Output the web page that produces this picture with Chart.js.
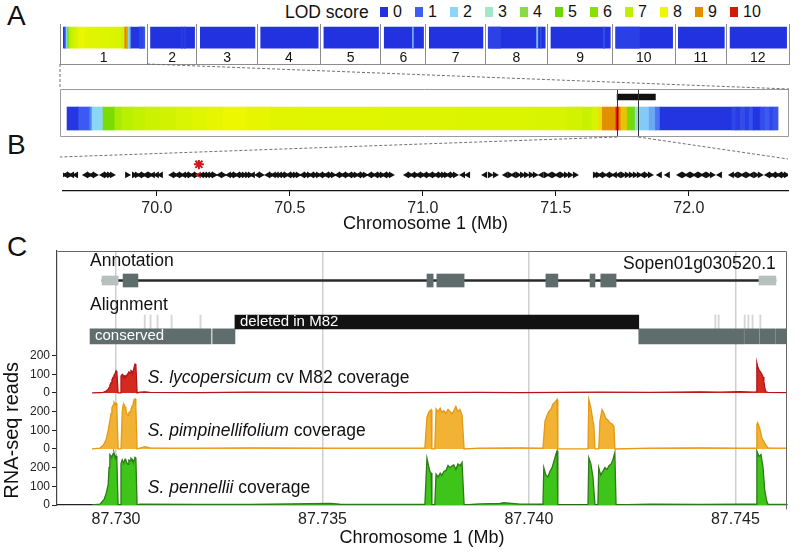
<!DOCTYPE html>
<html>
<head>
<meta charset="utf-8">
<title>LOD scan and RNA-seq coverage</title>
<script src="https://cdn.jsdelivr.net/npm/chart.js@4.4.1/dist/chart.umd.min.js"></script>
<style>
  html,body{margin:0;padding:0;background:#fff;}
  #fig{position:relative;width:802px;height:552px;overflow:hidden;font-family:"Liberation Sans",Arial,Helvetica,sans-serif;color:#111;}
  #fig canvas{position:absolute;}
  .panel{position:absolute;left:7px;font-size:28px;line-height:28px;}
  .lg{position:absolute;top:4px;height:16px;font-size:16px;line-height:16px;display:flex;align-items:center;}
  .lg span{display:inline-block;width:8px;height:10px;margin-right:5px;}
  #links{position:absolute;left:0;top:0;}
</style>
</head>
<body>
<div id="fig">
  <div class="panel" style="top:2px">A</div>
  <div class="panel" style="top:131px">B</div>
  <div class="panel" style="top:233px">C</div>
  <div style="position:absolute;left:285px;top:2px;font-size:17.5px;line-height:20px">LOD score</div>
  <div id="legend"></div>
  <canvas id="chartA" width="731" height="42" style="left:59px;top:24px"></canvas>
  <canvas id="chartB1" width="731" height="50" style="left:59px;top:88px"></canvas>
  <canvas id="chartB2" width="802" height="75" style="left:0;top:160px"></canvas>
  <canvas id="chartC" width="802" height="307" style="left:0;top:245px"></canvas>
  <svg id="links" width="802" height="552"></svg>
</div>
<script>
// ---------- data ----------
const lodLevels = [0,1,2,3,4,5,6,7,8,9,10];
const lodColors = ['#2232e0','#3e5ef2','#8ad6f7','#a2e8c8','#8ada48','#6cd806','#86e200','#bff000','#eef700','#e09000','#d21a06'];

const chromNames = ['1','2','3','4','5','6','7','8','9','10','11','12'];
const chromLen = [91,52,63,66,63,47,62,65,68,65,54,65]; // Mb

// chromosome 1 LOD profile: breakpoints (Mb) and LOD of each interval
const chr1Pos = [0,1.5,2.9,3.2,4.6,6.1,7,8.5,10,12,14,16,18,20,23,26,30,40,50,60,64,66,67.2,68.0,68.5,70.25,70.65,70.9,71.7,72.7,73.3,74.5,75.3,75.9,85.1,85.6,86.2,86.8,87.3,87.8,88.7,89.3,89.9,90.4,91];
const chr1Lod = [0.1,0.9,1.3,2.0,5.5,6.6,6.9,7.1,7.25,7.4,7.55,7.7,7.85,7.95,7.85,7.75,7.7,7.65,7.6,7.55,7.4,7.2,7.5,8.2,9.0,10,9.0,8.5,5.3,2.4,1.9,1.6,1.2,0.05,0.5,0.2,0.6,0.3,0.7,0.05,0.6,0.9,0.5,0.8];

// weak signals on the other chromosomes (index, from, to in Mb, LOD)
const hiChrom = [1,1,5,7,7,7,8,9];
const hiFrom  = [35.8,39.0,32.8,3.0,53.5,57.5,58.4,3.0];
const hiTo    = [36.8,40.0,34.0,16.0,54.8,58.3,59.4,28.0];
const hiLod   = [0.3,0.3,1.6,0.35,1.8,0.6,0.7,0.3];

const qtlLines = [70.4, 73.1];
const qtlBar = [70.4, 75.3];

// panel B genes (Mb) and strand
const bTicks = [70.0,70.5,71.0,71.5,72.0];
const candidatePos = 70.158;
const genePos = [69.647,69.658,69.670,69.681,69.696,
 69.733,69.745,69.756,69.767,
 69.797,69.809,69.820,69.831,
 69.888,
 69.914,69.925,69.936,69.948,69.959,69.974,69.985,70.000,70.015,
 70.057,70.068,70.079,70.091,70.102,70.113,70.124,70.136,70.147,70.158,70.170,70.181,70.192,70.203,70.215,
 70.237,70.249,
 70.271,70.282,70.294,70.305,70.316,70.327,70.339,70.350,70.361,
 70.380,70.391,
 70.418,70.429,70.440,70.451,70.463,70.474,70.485,70.497,70.508,70.519,70.530,
 70.549,70.560,70.572,70.583,70.594,70.606,70.617,70.628,70.639,70.651,70.662,
 70.681,70.692,70.703,70.715,70.726,70.737,70.748,70.760,70.771,70.782,
 70.801,70.812,70.824,70.835,70.846,70.857,70.869,70.880,
 70.940,70.951,70.963,70.974,70.985,70.997,71.008,71.019,71.030,71.042,71.053,71.064,71.076,71.087,71.098,71.109,71.121,
 71.151,71.170,
 71.234,71.252,71.271,
 71.312,71.327,71.342,71.357,71.373,71.388,71.406,71.421,
 71.447,71.463,71.478,71.493,71.508,71.523,71.538,71.553,71.572,
 71.647,71.658,71.670,71.681,71.696,71.707,71.722,71.737,71.752,71.767,71.782,71.797,71.812,71.827,71.839,71.854,
 71.891,71.921,
 71.967,71.982,71.997,72.012,72.027,72.042,72.057,72.072,72.087,
 72.117,
 72.162,72.177,72.192,72.207,72.222,72.237,72.252,72.267,
 72.297,72.309,72.320,72.331,72.342,72.354,72.365];
const geneStrand = [1,-1,1,-1,-1,
 -1,1,-1,1,
 -1,1,1,1,
 1,
 1,1,-1,1,-1,1,-1,-1,-1,
 -1,1,-1,1,-1,-1,1,-1,1,-1,-1,-1,-1,-1,1,
 -1,1,
 -1,-1,1,-1,1,1,1,1,-1,
 -1,1,
 -1,1,-1,-1,-1,-1,1,-1,1,1,1,
 -1,1,1,-1,1,1,-1,1,-1,1,1,
 -1,1,-1,1,-1,1,1,-1,1,1,
 -1,1,-1,1,1,-1,1,1,
 -1,1,-1,1,-1,1,-1,1,-1,1,-1,1,1,1,-1,1,1,
 -1,-1,
 -1,1,1,
 -1,1,-1,1,1,1,1,1,
 -1,1,-1,1,-1,1,1,1,1,
 1,1,-1,1,-1,1,-1,-1,1,1,1,1,1,-1,1,1,
 -1,-1,
 -1,1,-1,1,-1,1,-1,1,1,
 -1,
 -1,-1,1,-1,1,-1,1,1,
 -1,1,-1,1,-1,1,1];

// panel C: gene model and alignment (Mb)
const cTicks = [87.730,87.735,87.740,87.745];
const intron = [87.72966, 87.74598];
const utrStart = [87.72966, 87.74557];
const utrEnd   = [87.73005, 87.74598];
const exonStart = [87.73017, 87.73753, 87.73777, 87.74041, 87.74148, 87.74174];
const exonEnd   = [87.73053, 87.73768, 87.73843, 87.74070, 87.74160, 87.74211];
const delRegion = [87.73288, 87.74266];
const consStart = [87.72937, 87.73234, 87.74266, 87.74522, 87.74560, 87.74599];
const consEnd   = [87.73230, 87.73288, 87.74520, 87.74558, 87.74597, 87.74625];
const alnTickPos = [87.73068, 87.73082, 87.73099, 87.73133, 87.73203, 87.74450, 87.74458, 87.74521, 87.74530, 87.74540, 87.74559];

// RNA-seq coverage (reads)
const m82Pos = [87.72942,87.72961,87.72969,87.72976,87.72981,87.72983,87.72985,87.72988,87.72990,87.72993,87.72995,87.72998,87.73000,87.73002,87.73005,87.73010,
 87.73012,87.73015,87.73017,87.73019,87.73022,87.73024,87.73027,87.73029,87.73031,87.73034,87.73036,87.73039,87.73041,87.73044,87.73046,87.73048,87.73051,
 87.73058,87.73070,87.73082,87.73203,87.73324,87.73518,87.73688,87.73881,87.73978,87.74172,87.74293,87.74414,87.74462,87.74511,87.74547,87.74550,
 87.74552,87.74554,87.74557,87.74559,87.74562,87.74564,87.74567,87.74569,87.74571,87.74574,87.74579,87.74625];
const m82Reads = [0,2,3,10,20,28,40,55,70,85,95,105,118,110,0,0,
 90,100,95,85,92,88,98,105,112,108,120,115,110,140,155,150,0,
 4,6,3,2,4,3,2,3,2,4,3,6,4,7,4,5,
 160,140,125,118,108,100,85,62,30,6,3,2];

const pimpPos = [87.72942,87.72961,87.72969,87.72976,87.72981,87.72985,87.72988,87.72990,87.72993,87.72995,87.72998,87.73000,87.73002,87.73005,
 87.73012,87.73015,87.73017,87.73019,87.73022,87.73024,87.73027,87.73029,87.73031,87.73034,87.73036,87.73039,87.73041,87.73044,87.73046,87.73048,87.73051,
 87.73058,87.73070,87.73082,87.73203,87.73324,87.73518,87.73688,87.73748,
 87.73753,87.73758,87.73763,87.73765,87.73772,
 87.73775,87.73780,87.73785,87.73789,87.73794,87.73799,87.73804,87.73809,87.73814,87.73818,87.73823,87.73828,87.73833,87.73838,87.73843,
 87.73881,87.73978,87.74034,
 87.74039,87.74044,87.74048,87.74053,87.74058,87.74063,87.74068,87.74070,
 87.74143,87.74145,87.74150,87.74155,87.74157,87.74160,
 87.74169,87.74172,87.74177,87.74182,87.74186,87.74191,87.74196,87.74201,87.74206,87.74208,
 87.74293,87.74414,87.74511,87.74550,
 87.74552,87.74554,87.74559,87.74564,87.74569,87.74574,87.74579,87.74625];
const pimpReads = [0,5,20,50,100,150,190,220,235,250,240,245,215,0,
 0,200,235,240,225,200,185,180,195,200,210,230,240,265,268,225,0,
 5,12,6,4,6,5,4,5,
 170,200,210,0,0,
 215,200,218,195,205,190,212,200,188,205,228,200,212,180,0,
 5,6,4,
 150,180,200,212,240,250,265,0,
 0,265,220,150,130,0,
 0,150,210,190,165,155,140,135,120,0,
 5,6,5,5,
 130,140,110,60,40,20,6,4];

const pennPos = [87.72942,87.72961,87.72971,87.72976,87.72981,87.72983,87.72985,87.72988,87.72990,87.72993,87.72995,87.72998,87.73000,87.73002,87.73005,87.73010,
 87.73012,87.73015,87.73017,87.73019,87.73022,87.73024,87.73027,87.73029,87.73031,87.73034,87.73036,87.73039,87.73041,87.73044,87.73046,87.73048,87.73051,
 87.73058,87.73203,87.73324,87.73518,87.73542,87.73688,87.73748,
 87.73753,87.73755,87.73760,87.73763,87.73765,87.73772,
 87.73775,87.73780,87.73785,87.73789,87.73794,87.73799,87.73804,87.73809,87.73814,87.73818,87.73823,87.73828,87.73833,87.73838,87.73843,
 87.73881,87.73930,87.73939,87.73978,87.74034,
 87.74036,87.74041,87.74046,87.74051,87.74056,87.74060,87.74065,87.74068,87.74070,
 87.74143,87.74145,87.74150,87.74155,87.74160,
 87.74167,87.74169,87.74174,87.74179,87.74184,87.74189,87.74194,87.74199,87.74203,87.74208,87.74211,
 87.74293,87.74414,87.74511,87.74550,
 87.74552,87.74557,87.74562,87.74567,87.74571,87.74576,87.74579,87.74625];
const pennReads = [0,5,30,60,110,200,270,262,258,275,280,250,262,240,0,0,
 220,242,232,228,245,238,222,218,240,236,250,244,230,236,255,250,0,
 4,3,3,8,4,3,3,
 250,230,180,172,0,0,
 165,150,170,158,180,185,212,200,210,215,190,220,210,228,0,
 6,8,12,5,4,
 200,160,150,180,200,230,270,290,0,
 0,252,220,150,0,
 0,200,160,180,200,190,210,220,240,280,0,
 4,3,4,4,
 290,260,270,200,80,20,4,3];

const trackSpecies = ['S. lycopersicum','S. pimpinellifolium','S. pennellii'];
const trackSuffix = [' cv M82 coverage',' coverage',' coverage'];
const yTickVals = [0,100,200,300,400,500,600,700,800];

// ---------- helpers ----------
const FONT = '"Liberation Sans", Arial, Helvetica, sans-serif';
Chart.defaults.font.family = FONT;
Chart.defaults.color = '#111';
Chart.defaults.animation = false;
Chart.defaults.responsive = false;
Chart.defaults.events = [];
Chart.defaults.layout.autoPadding = false;
Chart.defaults.plugins.legend.display = false;
Chart.defaults.plugins.tooltip.enabled = false;

function hexRgb(h){ const n = parseInt(h.slice(1),16); return [n>>16&255, n>>8&255, n&255]; }
function lodColor(v){
  const i = Math.max(0, Math.min(9, Math.floor(v)));
  const f = Math.min(1, Math.max(0, v - i));
  const a = hexRgb(lodColors[i]), b = hexRgb(lodColors[i+1]);
  return 'rgb(' + a.map((c,k)=>Math.round(c + (b[k]-c)*f)).join(',') + ')';
}

const framePlugin = {
  id:'frame',
  afterDraw(chart, args, o){
    if(!o || !o.sides) return;
    const {ctx, chartArea:a} = chart;
    const L = Math.round(a.left)+0.5, R = Math.round(a.right)-0.5, T = Math.round(a.top)+0.5, B = Math.round(a.bottom)-0.5;
    ctx.save(); ctx.lineWidth = o.width || 1; ctx.strokeStyle = o.color; ctx.beginPath();
    if(o.sides.includes('top')){ ctx.moveTo(L,T); ctx.lineTo(R,T); }
    if(o.sides.includes('right')){ ctx.moveTo(R,T); ctx.lineTo(R,B+(o.extend||0)); }
    if(o.sides.includes('bottom')){ ctx.moveTo(L,B); ctx.lineTo(R,B); }
    if(o.sides.includes('left')){ ctx.moveTo(L,T); ctx.lineTo(L,B); }
    ctx.stroke(); ctx.restore();
  }
};

// legend (HTML)
const lg = document.getElementById('legend');
lodLevels.forEach((v,i)=>{
  const d = document.createElement('div');
  d.className = 'lg';
  d.style.left = (380 + 35*i) + 'px';
  d.innerHTML = `<span style="background:${lodColors[i]}"></span>${v}`;
  lg.appendChild(d);
});

// ---------- panel A ----------
const chromStart = [0];
chromLen.forEach(l => chromStart.push(chromStart[chromStart.length-1] + l));
const chr1Len = chr1Pos[chr1Pos.length-1];
const aSegs = [];
chromLen.forEach((len,c)=>{
  const s0 = chromStart[c] + 3.5, s1 = chromStart[c] + len - 2.5;
  if(c === 0){
    const k = (s1 - s0) / chr1Len;
    chr1Lod.forEach((v,i)=> aSegs.push({a:s0 + chr1Pos[i]*k, b:s0 + chr1Pos[i+1]*k, lod:v}));
  } else {
    aSegs.push({a:s0, b:s1, lod:0});
  }
});
hiChrom.forEach((c,i)=> aSegs.push({a:chromStart[c]+hiFrom[i], b:chromStart[c]+hiTo[i], lod:hiLod[i]}));

const chromLabels = {
  id:'chromLabels',
  afterDatasetsDraw(chart){
    const {ctx, scales:{x,y}} = chart;
    ctx.save();
    ctx.font = '14px ' + FONT; ctx.fillStyle = '#111'; ctx.textAlign = 'center'; ctx.textBaseline = 'middle';
    chromNames.forEach((n,c)=> ctx.fillText(n, x.getPixelForValue(chromStart[c] + chromLen[c]/2), y.getPixelForValue(0.15)));
    ctx.restore();
  }
};

const chartA = new Chart(document.getElementById('chartA'), {
  type:'bar',
  data:{datasets:[{
    data: aSegs.map(s=>({x:[s.a,s.b], y:0.66})),
    backgroundColor: aSegs.map(s=>lodColor(s.lod)),
    barThickness:21, grouped:false, borderWidth:0
  }]},
  options:{
    indexAxis:'y',
    layout:{padding:{left:1,right:1,top:0,bottom:2}},
    scales:{
      x:{type:'linear', min:0, max:chromStart[chromStart.length-1], offset:false,
         afterBuildTicks:s=>{ s.ticks = chromStart.map(v=>({value:v})); },
         ticks:{display:false}, grid:{color:'#8c8c8c', drawTicks:false, offset:false}, border:{color:'#8c8c8c'}},
      y:{type:'linear', min:0, max:1, display:false, offset:false, grid:{offset:false}}
    }
  },
  plugins:[chromLabels]
});

// ---------- panel B: zoomed chromosome 1 ----------
const chartB1 = new Chart(document.getElementById('chartB1'), {
  type:'bar',
  data:{datasets:[
    {data: chr1Lod.map((v,i)=>({x:[chr1Pos[i], chr1Pos[i+1]], y:0.385})),
     backgroundColor: chr1Lod.map(lodColor), barThickness:23, grouped:false, borderWidth:0},
    {data:[{x:[qtlBar[0], qtlBar[1]], y:0.833}], backgroundColor:'#111', barThickness:6, grouped:false, borderWidth:0}
  ]},
  options:{
    indexAxis:'y',
    layout:{padding:1},
    scales:{
      x:{type:'linear', min:-0.9, max:92.4, offset:false,
         afterBuildTicks:s=>{ s.ticks = qtlLines.map(v=>({value:v})); },
         ticks:{display:false}, grid:{color:'#333', drawTicks:false, z:1, offset:false}, border:{display:false}},
      y:{type:'linear', min:0, max:1, display:false, offset:false, grid:{offset:false}}
    },
    plugins:{frame:{sides:['top','right','bottom','left'], color:'#9a9a9a'}}
  },
  plugins:[framePlugin]
});

// ---------- panel B: genes ----------
const chartB2 = new Chart(document.getElementById('chartB2'), {
  type:'scatter',
  data:{datasets:[
    {data: genePos.map(p=>({x:p, y:0.52})), pointStyle:'triangle', pointRadius:4,
     pointRotation: geneStrand.map(s=> s > 0 ? 90 : -90),
     pointBackgroundColor: genePos.map(p=> p === candidatePos ? '#c8161d' : '#111'),
     pointBorderWidth:0},
    {data:[{x:candidatePos, y:0.86}], pointStyle:'star', pointRadius:5, pointBorderColor:'#d0191f', pointBorderWidth:2}
  ]},
  options:{
    layout:{padding:{left:63,right:14,top:0,bottom:0}},
    scales:{
      x:{type:'linear', min:69.647, max:72.373,
         afterBuildTicks:s=>{ s.ticks = bTicks.map(v=>({value:v})); },
         afterFit:s=>{ s.height = 44; s.paddingLeft = 0; s.paddingRight = 0; },
         ticks:{callback:v=>v.toFixed(1), font:{size:16}, padding:3, color:'#222', maxRotation:0},
         grid:{drawOnChartArea:false, drawTicks:true, tickLength:5, color:'#111'},
         border:{color:'#111', width:1.2},
         title:{display:true, text:'Chromosome 1 (Mb)', font:{size:18}, padding:0, color:'#111'}},
      y:{min:0, max:1, display:false}
    }
  }
});

// ---------- panel C ----------
const annoY = 1202, delY = 980, consY = 903;
const trackDefs = [
  {pos:m82Pos, reads:m82Reads, off:600, line:'#b3131d', fill:'#d52b1e', labelY:80},
  {pos:pimpPos, reads:pimpReads, off:300, line:'#e39a16', fill:'#f2b234', labelY:96},
  {pos:pennPos, reads:pennReads, off:0, line:'#2e7a18', fill:'#3fc51a', labelY:91}
];
const cDatasets = [];
trackDefs.forEach(t => cDatasets.push({
  type:'line', data:t.pos.map((p,i)=>({x:p, y:t.off + t.reads[i]})),
  borderColor:t.line, backgroundColor:t.fill, fill:{value:t.off},
  borderWidth:1.3, pointRadius:0, tension:0, order:3
}));
function floatBars(starts, ends, yv, thick, color, order){
  return {type:'bar', indexAxis:'y', data:starts.map((s,i)=>({x:[s, ends[i]], y:yv})),
          backgroundColor:color, barThickness:thick, grouped:false, borderWidth:0, order};
}
cDatasets.push(floatBars([intron[0]], [intron[1]], annoY, 2, '#2a2a2a', 6));
cDatasets.push(floatBars(utrStart, utrEnd, annoY, 9, '#b7bfbf', 2));
cDatasets.push(floatBars(exonStart, exonEnd, annoY, 13, '#5e6c6c', 2));
cDatasets.push(floatBars([delRegion[0]], [delRegion[1]], delY, 14, '#121212', 2));
cDatasets.push(floatBars(consStart, consEnd, consY, 15, '#5f6d6d', 2));
cDatasets.push(floatBars(alnTickPos, alnTickPos.map(p=>p+0.00003), delY, 14, '#d6d6d6', 4));

const cLabels = [
  {text:'Annotation', x:87.72937, y:1306, size:17.5, color:'#111', align:'left'},
  {text:'Alignment', x:87.72937, y:1071, size:17.5, color:'#111', align:'left'},
  {text:'Sopen01g030520.1', x:87.74598, y:1290, size:17.5, color:'#111', align:'right'},
  {text:'conserved', x:87.72949, y:905, size:15, color:'#fff', align:'left'},
  {text:'deleted in M82', x:87.73300, y:980, size:15, color:'#fff', align:'left'}
];
const cText = {
  id:'cText',
  afterDatasetsDraw(chart){
    const {ctx, scales:{x,y}} = chart;
    ctx.save();
    ctx.textBaseline = 'middle';
    cLabels.forEach(l=>{
      ctx.font = l.size + 'px ' + FONT; ctx.fillStyle = l.color; ctx.textAlign = l.align;
      ctx.fillText(l.text, x.getPixelForValue(l.x), y.getPixelForValue(l.y));
    });
    ctx.textAlign = 'left'; ctx.fillStyle = '#111';
    trackSpecies.forEach((sp,i)=>{
      let px = x.getPixelForValue(87.73077);
      const py = y.getPixelForValue(trackDefs[i].off + trackDefs[i].labelY);
      ctx.font = 'italic 17.5px ' + FONT; ctx.fillText(sp, px, py);
      px += ctx.measureText(sp).width;
      ctx.font = '17.5px ' + FONT; ctx.fillText(trackSuffix[i], px, py);
    });
    ctx.translate(y.left + 12, y.getPixelForValue(400));
    ctx.rotate(-Math.PI/2);
    ctx.font = '20px ' + FONT; ctx.textAlign = 'center';
    ctx.fillText('RNA-seq reads', 0, 0);
    ctx.restore();
  }
};

const chartC = new Chart(document.getElementById('chartC'), {
  type:'line',
  data:{datasets:cDatasets},
  options:{
    layout:{padding:{left:0,right:15,top:6,bottom:0}},
    scales:{
      x:{type:'linear', min:87.72857, max:87.74625, offset:false,
         afterBuildTicks:s=>{ s.ticks = cTicks.map(v=>({value:v})); },
         afterFit:s=>{ s.height = 47; s.paddingLeft = 0; s.paddingRight = 0; },
         ticks:{callback:v=>v.toFixed(3), font:{size:16}, padding:5, color:'#222', maxRotation:0},
         grid:{color:'#cfcfcf', lineWidth:1.5, drawTicks:false, offset:false},
         border:{color:'#222', width:1.2},
         title:{display:true, text:'Chromosome 1 (Mb)', font:{size:18}, padding:{top:0,bottom:3}, color:'#111'}},
      y:{type:'linear', min:0, max:1360, offset:false,
         afterBuildTicks:s=>{ s.ticks = yTickVals.map(v=>({value:v})); },
         afterFit:s=>{ s.width = 57; s.paddingTop = 0; s.paddingBottom = 0; },
         ticks:{callback:v=>String(v % 300), font:{size:12}, padding:2, color:'#222'},
         grid:{drawOnChartArea:false, drawTicks:true, tickLength:5, color:'#222', offset:false},
         border:{color:'#444', width:1.2}}
    },
    plugins:{frame:{sides:['top','right'], color:'#666', extend:5}}
  },
  plugins:[cText, framePlugin]
});

// ---------- dashed connectors between panels ----------
const svg = document.getElementById('links');
function pagePt(chart, x, y){ return [chart.canvas.offsetLeft + x, chart.canvas.offsetTop + y]; }
function dashed(p, q){
  const l = document.createElementNS('http://www.w3.org/2000/svg','line');
  l.setAttribute('x1', p[0]); l.setAttribute('y1', p[1]); l.setAttribute('x2', q[0]); l.setAttribute('y2', q[1]);
  l.setAttribute('stroke','#707070'); l.setAttribute('stroke-width','1'); l.setAttribute('stroke-dasharray','3,2');
  svg.appendChild(l);
}
const aA = chartA.chartArea, b1A = chartB1.chartArea, b2A = chartB2.chartArea;
dashed(pagePt(chartA, chartA.scales.x.getPixelForValue(chromStart[0]), aA.bottom), pagePt(chartB1, b1A.left, b1A.top));
dashed(pagePt(chartA, chartA.scales.x.getPixelForValue(chromStart[1]), aA.bottom), pagePt(chartB1, b1A.right, b1A.top));
dashed(pagePt(chartB1, chartB1.scales.x.getPixelForValue(qtlLines[0]), b1A.bottom), pagePt(chartB2, b2A.left - 3, b2A.top - 3));
dashed(pagePt(chartB1, chartB1.scales.x.getPixelForValue(qtlLines[1]), b1A.bottom), pagePt(chartB2, b2A.right, b2A.top - 1));
</script>
</body>
</html>
